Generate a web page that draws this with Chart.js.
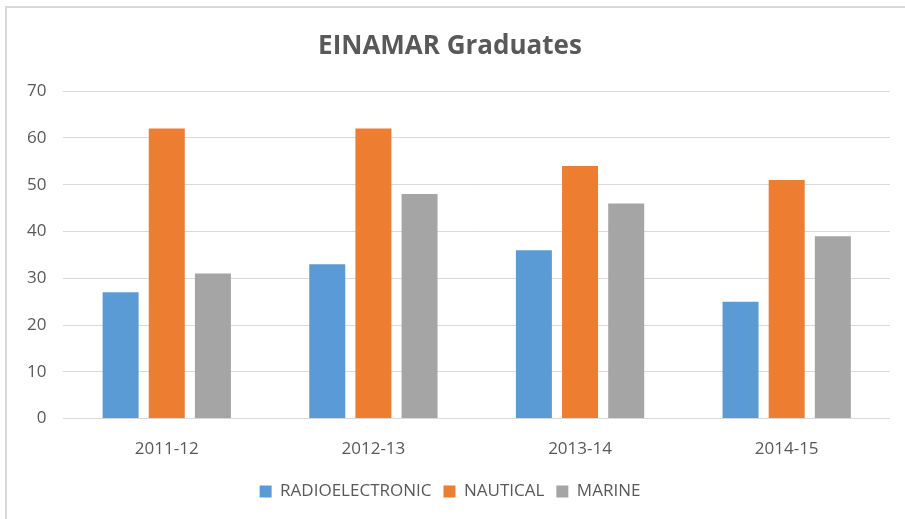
<!DOCTYPE html>
<html>
<head>
<meta charset="utf-8">
<script src="https://cdn.jsdelivr.net/npm/chart.js@4"></script>
<style>
  body { margin: 0; background: #fff; }
  #wrap {
    position: absolute; left: 5px; top: 6px;
    width: 898px; height: 511px;
    border-left: 2px solid #d9d9d9; border-top: 2px solid #d9d9d9;
  }
</style>
</head>
<body>
<div id="wrap"><canvas id="graduados"></canvas></div>
<script>
// dados do gráfico
const anos = ['2011-12', '2012-13', '2013-14', '2014-15'];
const radioelectronic = [27, 33, 36, 25];
const nautical = [62, 62, 54, 51];
const marine = [31, 48, 46, 39];
const ticksY = [0, 10, 20, 30, 40, 50, 60, 70];

const ctx = document.getElementById('graduados').getContext('2d');
const fonte = "'Open Sans', 'Noto Sans', sans-serif";

new Chart(ctx, {
  type: 'bar',
  data: {
    labels: anos,
    datasets: [
      { label: 'RADIOELECTRONIC', data: radioelectronic, backgroundColor: '#5b9bd5' },
      { label: 'NAUTICAL', data: nautical, backgroundColor: '#ed7d31' },
      { label: 'MARINE', data: marine, backgroundColor: '#a5a5a5' }
    ]
  },
  options: {
    responsive: true,
    maintainAspectRatio: false,
    animation: false,
    datasets: { bar: { categoryPercentage: 0.67, barPercentage: 0.78 } },
    layout: { padding: { left: 3, right: 15, top: 10, bottom: 9 } },
    plugins: {
      title: {
        display: true,
        text: 'EINAMAR Graduates',
        color: '#595959',
        font: { family: fonte, size: 26, weight: 'bold' },
        padding: { top: 13, bottom: 29 }
      },
      legend: {
        position: 'bottom',
        labels: {
          color: '#595959',
          font: { family: fonte, size: 17 },
          boxWidth: 12, boxHeight: 12,
          padding: 12
        }
      },
      tooltip: { enabled: false }
    },
    scales: {
      x: {
        grid: { display: false },
        border: { display: false },
        ticks: { color: '#595959', font: { family: fonte, size: 17 }, padding: 12 }
      },
      y: {
        min: 0, max: 70,
        afterBuildTicks: (axis) => { axis.ticks = ticksY.map(v => ({ value: v })); },
        grid: { color: '#d9d9d9', drawTicks: false },
        border: { display: false },
        ticks: { color: '#595959', font: { family: fonte, size: 17 }, padding: 17 }
      }
    }
  }
});
</script>
</body>
</html>
